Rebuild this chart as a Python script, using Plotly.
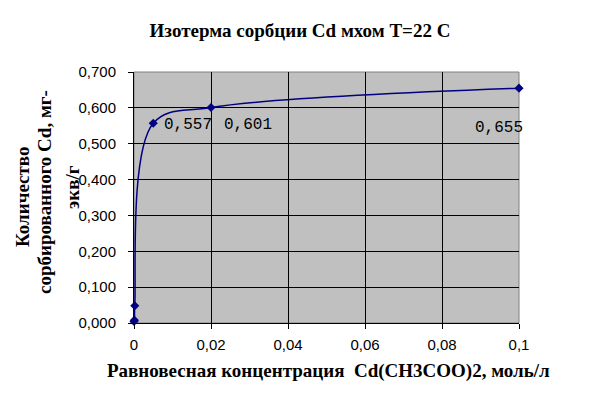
import plotly.graph_objects as go

# Data
conc = [0.0, 0.0001, 0.0002, 0.005, 0.02, 0.1]
sorbed = [0.004, 0.008, 0.048, 0.557, 0.601, 0.655]
labels = ["", "", "", "0,557", "0,601", "0,655"]
label_dx = [0, 0, 0, 9, 11, -46]
label_dy = [0, 0, 0, -2, -17, -40]

x_ticks = [0, 0.02, 0.04, 0.06, 0.08, 0.1]
x_tick_text = ["0", "0,02", "0,04", "0,06", "0,08", "0,1"]
y_ticks = [0, 0.1, 0.2, 0.3, 0.4, 0.5, 0.6, 0.7]
y_tick_text = ["0,000", "0,100", "0,200", "0,300", "0,400", "0,500", "0,600", "0,700"]

navy = "#000080"

fig = go.Figure()
fig.add_trace(go.Scatter(
    x=conc, y=sorbed, mode="lines+markers",
    line=dict(color=navy, width=1.5, shape="spline", smoothing=1.0),
    marker=dict(symbol="diamond", size=7, color=navy),
    showlegend=False, cliponaxis=False,
))

for xv, yv, t, dx, dy in zip(conc, sorbed, labels, label_dx, label_dy):
    if t:
        fig.add_annotation(x=xv, y=yv, text=t, showarrow=False,
                           xanchor="left", yanchor="middle",
                           xshift=dx, yshift=dy,
                           font=dict(family="Liberation Mono", size=16, color="#000000"))

L, R, T, B = 134, 82, 72, 71
W, H = 601, 394
pw = W - L - R
ph = H - T - B

fig.update_layout(
    width=W, height=H,
    margin=dict(l=L, r=R, t=T, b=B, pad=0),
    paper_bgcolor="white",
    plot_bgcolor="#C0C0C0",
    title=dict(text="<b>Изотерма сорбции Cd мхом T=22 C</b>",
               x=300 / W, xanchor="center", y=1 - 30 / H, yanchor="middle",
               font=dict(family="Liberation Serif", size=19, color="black")),
    xaxis=dict(range=[0, 0.1], tickvals=x_ticks, ticktext=x_tick_text,
               showgrid=True, gridcolor="black", gridwidth=1,
               showline=True, linecolor="black", linewidth=1,
               ticks="outside", ticklen=5, tickcolor="black",
               ticklabelstandoff=3,
               tickfont=dict(family="Liberation Sans", size=15, color="black"),
               zeroline=False, mirror=False),
    yaxis=dict(range=[0, 0.7], tickvals=y_ticks, ticktext=y_tick_text,
               showgrid=True, gridcolor="black", gridwidth=1,
               showline=True, linecolor="black", linewidth=1,
               ticks="outside", ticklen=5, tickcolor="black",
               ticklabelstandoff=9,
               tickfont=dict(family="Liberation Sans", size=15, color="black"),
               zeroline=False),
)

# plot-area border (top and right, gray)
fig.add_shape(type="rect", xref="paper", yref="paper", x0=0, x1=1, y0=0, y1=1,
              line=dict(color="#808080", width=1), layer="below")

# x axis title
fig.add_annotation(xref="paper", yref="paper", x=(328 - L) / pw, y=-(371 - (H - B)) / ph,
                   text="<b>Равновесная концентрация  Cd(CH3COO)2, моль/л</b>",
                   showarrow=False, xanchor="center", yanchor="middle",
                   font=dict(family="Liberation Serif", size=19, color="black"))

# y axis title (three wrapped lines)
ytitle_lines = ["Количество", "сорбированного Cd, мг-", "экв/г"]
ytitle_px = [22, 44, 72]
ytitle_py = [197, 192, 187]
for line, px, py in zip(ytitle_lines, ytitle_px, ytitle_py):
    fig.add_annotation(xref="paper", yref="paper", x=(px - L) / pw, y=1 - (py - T) / ph,
                       text="<b>" + line + "</b>", textangle=-90, showarrow=False,
                       xanchor="center", yanchor="middle",
                       font=dict(family="Liberation Serif", size=19, color="black"))

fig.write_html("out.html")
